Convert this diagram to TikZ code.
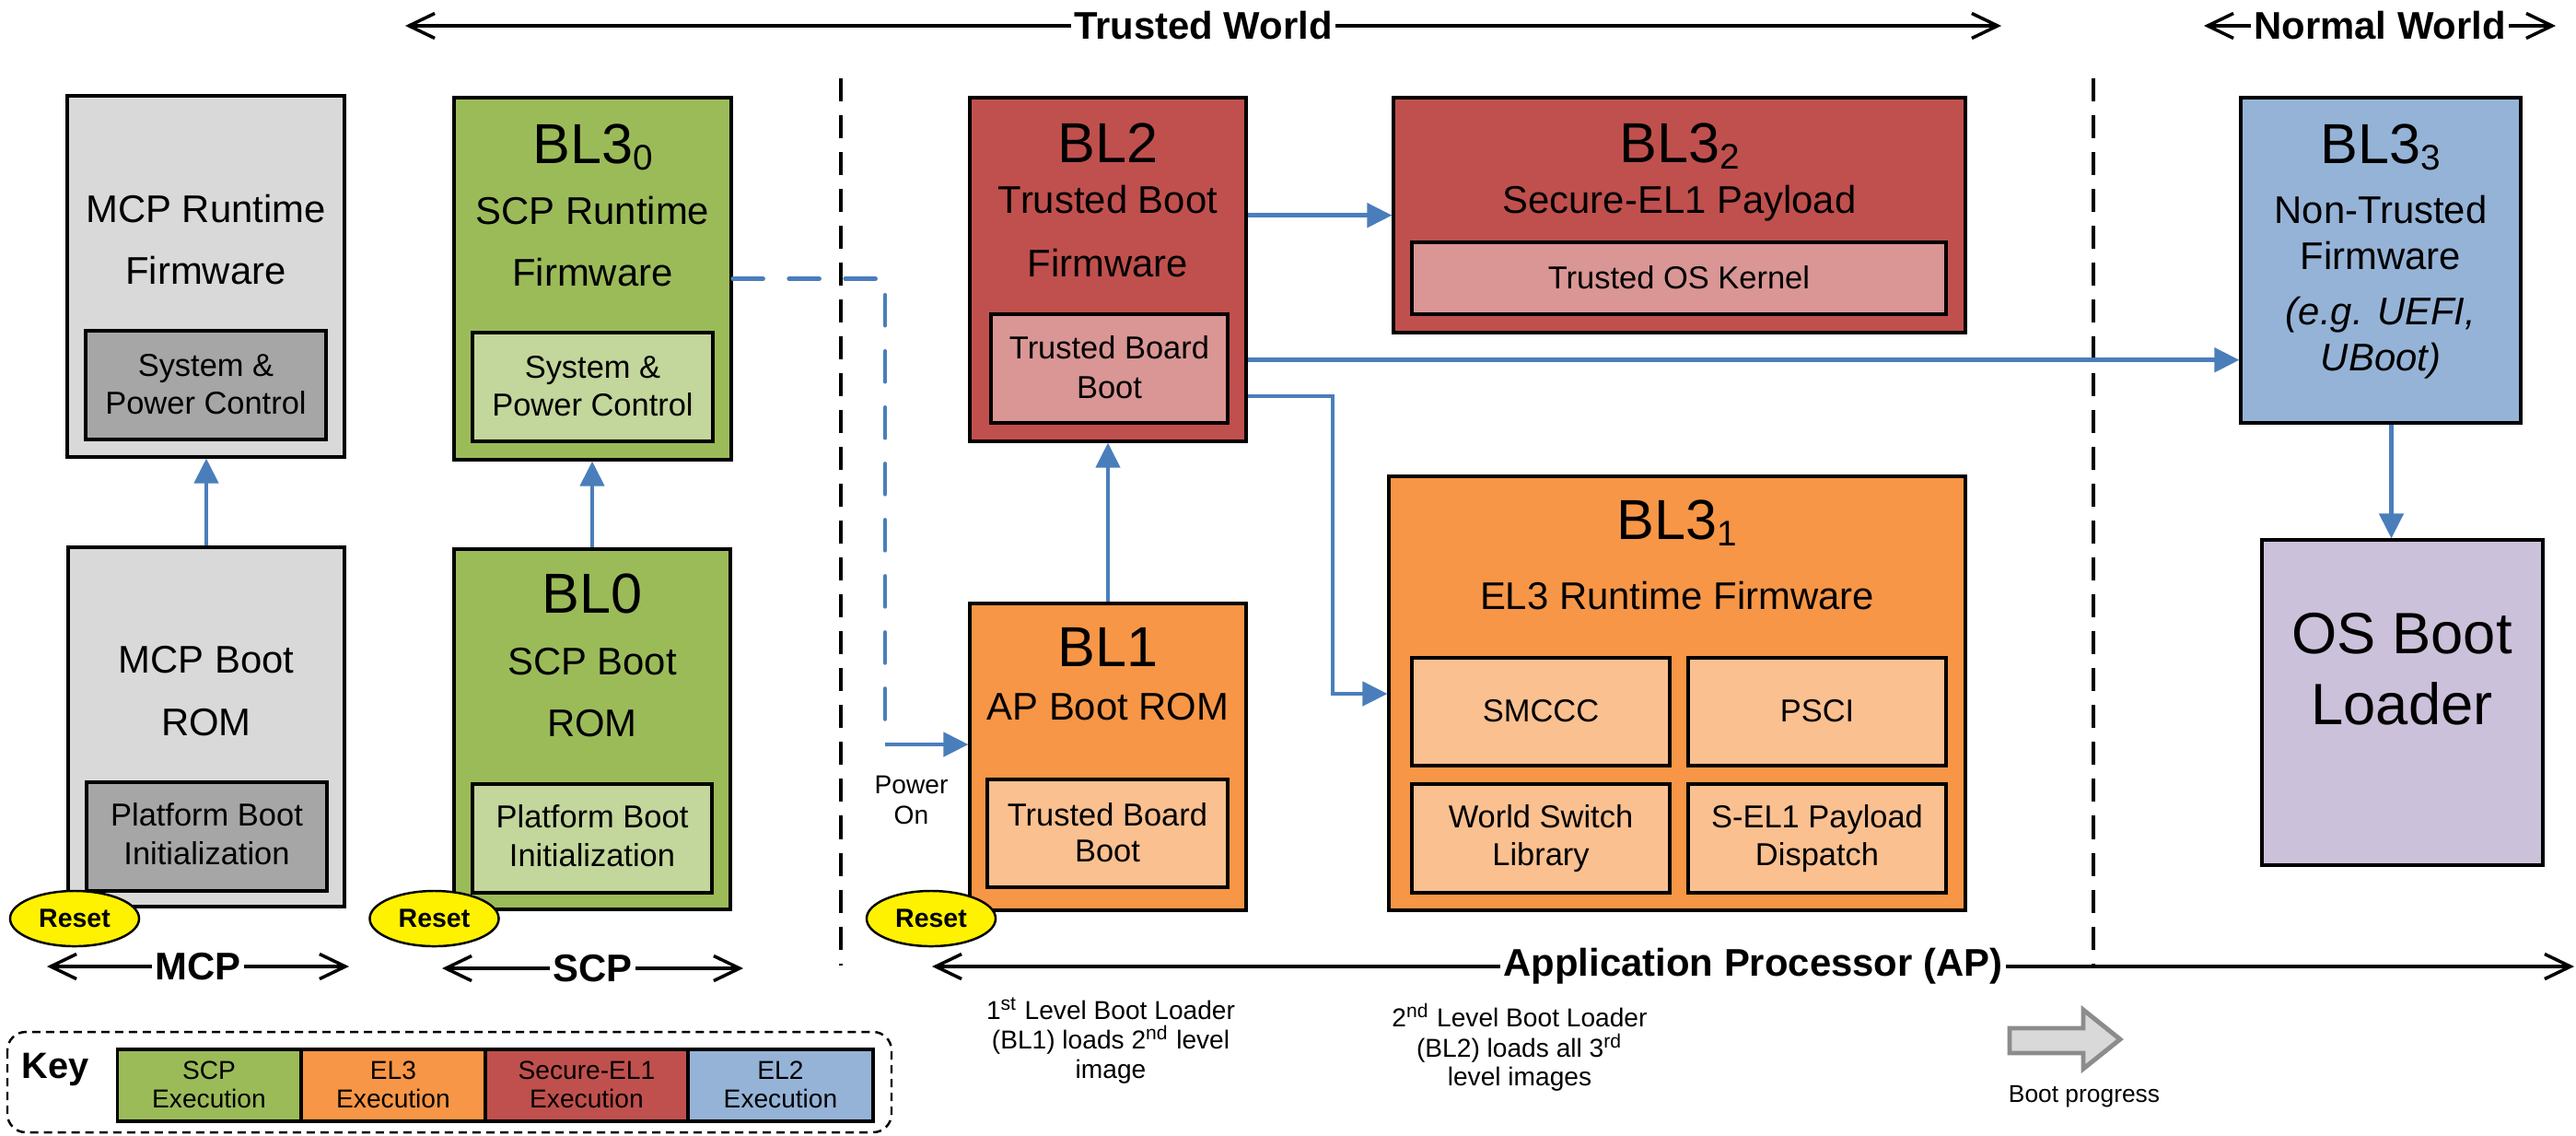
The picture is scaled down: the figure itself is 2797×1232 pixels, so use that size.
\documentclass[tikz,border=0pt]{standalone}
\usepackage{fontspec}
\setmainfont{Liberation Sans}
\usetikzlibrary{arrows.meta,shapes.geometric,fit}

\definecolor{scpgreen}{HTML}{9BBB59}
\definecolor{scplight}{HTML}{C3D69B}
\definecolor{elorange}{HTML}{F79646}
\definecolor{ellight}{HTML}{FAC090}
\definecolor{secred}{HTML}{C0504D}
\definecolor{seclight}{HTML}{D99694}
\definecolor{nsblue}{HTML}{95B3D7}
\definecolor{oslav}{HTML}{CCC1DA}
\definecolor{mcpgrey}{HTML}{D9D9D9}
\definecolor{mcpdark}{HTML}{A6A6A6}
\definecolor{flowblue}{HTML}{4A7EBB}
\definecolor{progfill}{HTML}{D9D9D9}
\definecolor{progline}{HTML}{8C8C8C}

\newcommand\fTitle{\fontsize{17.4pt}{20pt}\selectfont}
\newcommand\fBody{\fontsize{11.9pt}{14pt}\selectfont}
\newcommand\fSmall{\fontsize{9.8pt}{12pt}\selectfont}
\newcommand\fOS{\fontsize{18pt}{21pt}\selectfont}
\newcommand\fLabel{\fontsize{11.9pt}{14pt}\selectfont\bfseries}
\newcommand\fReset{\fontsize{8.1pt}{10pt}\selectfont\bfseries}
\newcommand\fKeyTitle{\fontsize{11.3pt}{13pt}\selectfont\bfseries}
\newcommand\fNote{\fontsize{8pt}{10pt}\selectfont}
\newcommand\sbs[1]{\raisebox{-2pt}{\fontsize{11pt}{11pt}\selectfont #1}}

\begin{document}
\begin{tikzpicture}[x=0.01cm,y=-0.01cm,
  box/.style={draw=black, line width=0.9pt, inner sep=0pt, rectangle},
  tx/.style={anchor=base, inner sep=0pt},
  ttl/.style={tx, font=\fTitle},
  bd/.style={tx, font=\fBody},
  sm/.style={tx, font=\fSmall},
  note/.style={tx, font=\fNote},
  flow/.style={draw=flowblue, line width=1.3pt, -{Triangle[length=2.7mm,width=2.6mm]}},
  span/.style={draw=black, line width=1pt, {Straight Barb[length=2.8mm,width=2.7mm]}-{Straight Barb[length=2.8mm,width=2.7mm]}},
  lbl/.style={fill=white, inner xsep=1pt, inner ysep=0pt, font=\fLabel},
  divider/.style={draw=black, line width=0.9pt, dash pattern=on 2.5mm off 1.5mm},
  reset/.style={ellipse, draw=black, line width=0.7pt, fill=yellow, minimum width=1.4cm, minimum height=0.6cm, inner sep=0pt, font=\fReset}
]
\useasboundingbox (0,0) rectangle (2797,1232);
\fill[white] (0,0) rectangle (2797,1232);

% ---------------- MCP column ----------------
\node[box, fill=mcpgrey, fit={(73,104)(374,496)}] (mcprt) {};
\node[box, fill=mcpdark, fit={(93,359)(354,477)}] (mcpspc) {};
\node[bd] (mcprt-a) at (223.5,241) {MCP Runtime};
\node[bd] (mcprt-b) at (223.5,308) {Firmware};
\node[sm] (mcpspc-a) at (223.5,408) {System \&};
\node[sm] (mcpspc-b) at (223.5,449) {Power Control};

\node[box, fill=mcpgrey, fit={(74,594)(374,984)}] (mcprom) {};
\node[box, fill=mcpdark, fit={(94,849)(355,967)}] (mcppbi) {};
\node[bd] (mcprom-a) at (224,730) {MCP Boot};
\node[bd] (mcprom-b) at (224,798) {ROM};
\node[sm] (mcppbi-a) at (224.5,896) {Platform Boot};
\node[sm] (mcppbi-b) at (224.5,938) {Initialization};

% ---------------- SCP column ----------------
\node[box, fill=scpgreen, fit={(493,106)(794,499)}] (bl30) {};
\node[box, fill=scplight, fit={(513,361)(774,479)}] (bl30spc) {};
\node[ttl] (bl30-t) at (643.5,177) {BL3\sbs{0}};
\node[bd] (bl30-a) at (643.5,243) {SCP Runtime};
\node[bd] (bl30-b) at (643.5,310) {Firmware};
\node[sm] (bl30spc-a) at (643.5,410) {System \&};
\node[sm] (bl30spc-b) at (643.5,451) {Power Control};

\node[box, fill=scpgreen, fit={(493,596)(793,987)}] (bl0) {};
\node[box, fill=scplight, fit={(513,851)(773,969)}] (bl0pbi) {};
\node[ttl] (bl0-t) at (643,665) {BL0};
\node[bd] (bl0-a) at (643,732) {SCP Boot};
\node[bd] (bl0-b) at (643,799.5) {ROM};
\node[sm] (bl0pbi-a) at (643,898) {Platform Boot};
\node[sm] (bl0pbi-b) at (643,940) {Initialization};

% ---------------- Trusted world (AP) ----------------
\node[box, fill=secred, fit={(1053,106)(1353,479)}] (bl2) {};
\node[box, fill=seclight, fit={(1076,341)(1333,459)}] (bl2tbb) {};
\node[ttl] (bl2-t) at (1203,176) {BL2};
\node[bd] (bl2-a) at (1203,231) {Trusted Boot};
\node[bd] (bl2-b) at (1203,300.5) {Firmware};
\node[sm] (bl2tbb-a) at (1204.5,389.5) {Trusted Board};
\node[sm] (bl2tbb-b) at (1204.5,432) {Boot};

\node[box, fill=secred, fit={(1513,106)(2134,361)}] (bl32) {};
\node[box, fill=seclight, fit={(1533,263)(2113,341)}] (bl32os) {};
\node[ttl] (bl32-t) at (1823.5,176) {BL3\sbs{2}};
\node[bd] (bl32-a) at (1823.5,231) {Secure-EL1 Payload};
\node[sm] (bl32os-a) at (1823,313) {Trusted OS Kernel};

\node[box, fill=elorange, fit={(1053,655)(1353,988)}] (bl1) {};
\node[box, fill=ellight, fit={(1072,846)(1333,963)}] (bl1tbb) {};
\node[ttl] (bl1-t) at (1203,723.5) {BL1};
\node[bd] (bl1-a) at (1203,781) {AP Boot ROM};
\node[sm] (bl1tbb-a) at (1202.5,896) {Trusted Board};
\node[sm] (bl1tbb-b) at (1202.5,935.5) {Boot};

\node[box, fill=elorange, fit={(1508,517)(2134,988)}] (bl31) {};
\node[ttl] (bl31-t) at (1821,585) {BL3\sbs{1}};
\node[bd] (bl31-a) at (1821,661) {EL3 Runtime Firmware};
\node[box, fill=ellight, fit={(1533,714)(1813,831)}] (smccc) {};
\node[box, fill=ellight, fit={(1833,714)(2113,831)}] (psci) {};
\node[box, fill=ellight, fit={(1533,851)(1813,969)}] (wsl) {};
\node[box, fill=ellight, fit={(1833,851)(2113,969)}] (sel1) {};
\node[sm] (smccc-a) at (1673,783) {SMCCC};
\node[sm] (psci-a) at (1973,783) {PSCI};
\node[sm] (wsl-a) at (1673,898) {World Switch};
\node[sm] (wsl-b) at (1673,939.7) {Library};
\node[sm] (sel1-a) at (1973,898) {S-EL1 Payload};
\node[sm] (sel1-b) at (1973,939.7) {Dispatch};

% ---------------- Normal world ----------------
\node[box, fill=nsblue, fit={(2433,106)(2737,459)}] (bl33) {};
\node[ttl] (bl33-t) at (2585,177) {BL3\sbs{3}};
\node[bd] (bl33-a) at (2585,242) {Non-Trusted};
\node[bd] (bl33-b) at (2585,292.6) {Firmware};
\node[bd, font=\fBody\itshape] (bl33-c) at (2585,352) {(e.g. UEFI,};
\node[bd, font=\fBody\itshape] (bl33-d) at (2585,402.5) {UBoot)};

\node[box, fill=oslav, fit={(2456,586)(2761,939)}] (os) {};
\node[tx, font=\fOS] (os-a) at (2608,709) {OS Boot};
\node[tx, font=\fOS] (os-b) at (2608,786) {Loader};

% ---------------- world dividers ----------------
\coordinate (div1-top) at (913,85);
\coordinate (div1-bot) at (913,1048);
\coordinate (div2-top) at (2273,85);
\coordinate (div2-bot) at (2273,1049);
\draw[divider] (div1-top) -- (div1-bot);
\draw[divider] (div2-top) -- (div2-bot);

% ---------------- boot flow ----------------
\draw[flow] (mcprom.north) -- (mcprom.north |- mcprt.south);
\draw[flow] (bl0.north) -- (bl0.north |- bl30.south);
\draw[flow] (bl1.north) -- (bl1.north |- bl2.south);

\coordinate (y32) at (0,233.7);
\draw[flow] (bl2.east |- y32) -- (bl32.west |- y32);
\coordinate (y33) at (0,390.7);
\draw[flow] (bl2.east |- y33) -- (bl33.west |- y33);
\coordinate (c31a) at (1447,430);
\coordinate (c31b) at (1447,753);
\draw[flow] (bl2.east |- c31a) -- (c31a) -- (c31b) -- (bl31.west |- c31b);
\coordinate (xos) at (2596.5,0);
\draw[flow] (bl33.south -| xos) -- (os.north -| xos);

\coordinate (pwa) at (961,302.5);
\coordinate (pwb) at (961,808);
\draw[draw=flowblue, line width=1.3pt, line cap=round, dash pattern=on 3.3mm off 2.8mm]
  (bl30.east |- pwa) -- (pwa) -- (pwb);
\draw[flow] (pwb) -- (bl1.west |- pwb);
\node[note] (pwr-a) at (989.5,861.5) {Power};
\node[note] (pwr-b) at (989.5,894) {On};

% ---------------- reset points ----------------
\node[reset] (rst-mcp) at (81,997) {Reset};
\node[reset] (rst-scp) at (471.5,997) {Reset};
\node[reset] (rst-ap) at (1011,997) {Reset};

% ---------------- extents ----------------
\coordinate (tw-l) at (440,28);
\coordinate (tw-r) at (2173,28);
\draw[span] (tw-l) -- (tw-r) node[midway, lbl] (tw) {Trusted World};
\coordinate (nw-l) at (2393,28);
\coordinate (nw-r) at (2775,28);
\draw[span] (nw-l) -- (nw-r) node[midway, lbl] (nw) {Normal World};
\coordinate (mcp-l) at (51,1049);
\coordinate (mcp-r) at (379,1049);
\draw[span] (mcp-l) -- (mcp-r) node[midway, lbl] (mcp) {MCP};
\coordinate (scp-l) at (480,1051);
\coordinate (scp-r) at (807,1051);
\draw[span] (scp-l) -- (scp-r) node[midway, lbl] (scp) {SCP};
\coordinate (ap-l) at (1012,1049);
\coordinate (ap-r) at (2795,1049);
\draw[span] (ap-l) -- (ap-r) node[midway, lbl] (ap) {Application Processor (AP)};

% ---------------- notes ----------------
\node[note] (n1-a) at (1206,1106) {1\textsuperscript{st} Level Boot Loader};
\node[note] (n1-b) at (1206,1138.4) {(BL1) loads 2\textsuperscript{nd} level};
\node[note] (n1-c) at (1206,1170.4) {image};
\node[note] (n2-a) at (1650,1114) {2\textsuperscript{nd} Level Boot Loader};
\node[note] (n2-b) at (1650,1147.6) {(BL2) loads all 3\textsuperscript{rd}};
\node[note] (n2-c) at (1650,1178.7) {level images};

% boot progress marker
\draw[fill=progfill, draw=progline, line width=1.4pt]
  (2182,1116) -- (2262,1116) -- (2262,1096) -- (2302,1128) -- (2262,1160)
  -- (2262,1143) -- (2182,1143) -- cycle;
\node[note, font=\fontsize{7.5pt}{9pt}\selectfont] (prog) at (2263,1196) {Boot progress};

% ---------------- key ----------------
\draw[line width=0.7pt, dash pattern=on 0.9mm off 0.6mm, rounded corners=2mm]
  (8,1120) rectangle (968,1229);
\node[tx, font=\fKeyTitle] (key) at (60,1170) {Key};
\node[box, fill=scpgreen, fit={(127.5,1139)(327,1217)}] (k1) {};
\node[box, fill=elorange, fit={(327,1139)(527,1217)}] (k2) {};
\node[box, fill=secred, fit={(527,1139)(747,1217)}] (k3) {};
\node[box, fill=nsblue, fit={(747,1139)(948,1217)}] (k4) {};
\node[note] (k1-a) at (227,1171) {SCP};
\node[note] (k1-b) at (227,1202) {Execution};
\node[note] (k2-a) at (427,1171) {EL3};
\node[note] (k2-b) at (427,1202) {Execution};
\node[note] (k3-a) at (637,1171) {Secure-EL1};
\node[note] (k3-b) at (637,1202) {Execution};
\node[note] (k4-a) at (847.5,1171) {EL2};
\node[note] (k4-b) at (847.5,1202) {Execution};
\end{tikzpicture}
\end{document}
